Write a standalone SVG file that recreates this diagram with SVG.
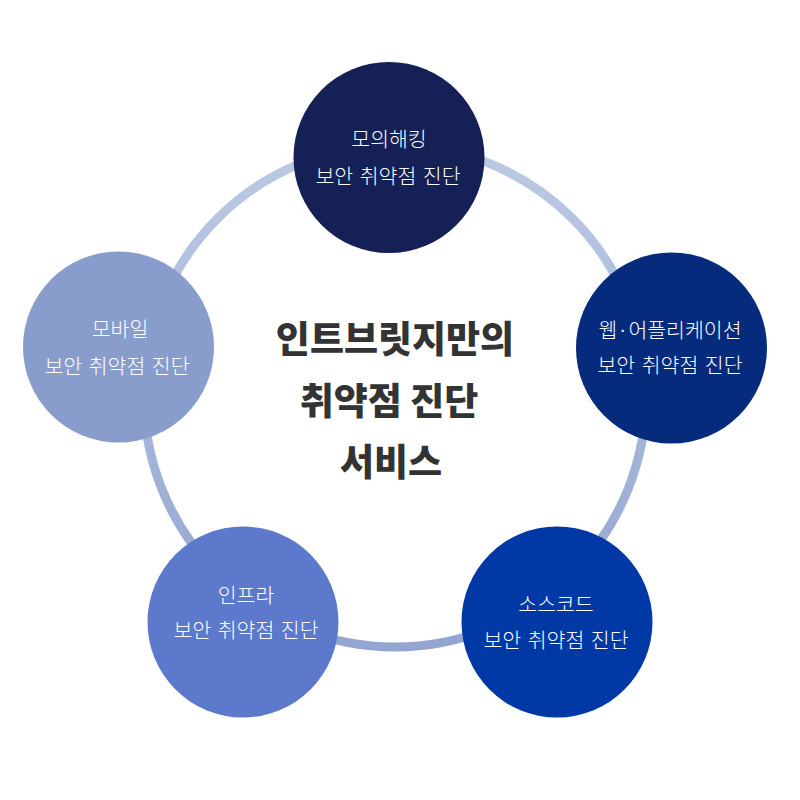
<svg xmlns="http://www.w3.org/2000/svg" width="800" height="800" viewBox="0 0 800 800">
<defs>
<linearGradient id="ringGrad" gradientUnits="userSpaceOnUse" x1="0" y1="145" x2="0" y2="647">
<stop offset="0" stop-color="#bccae3"/>
<stop offset="1" stop-color="#93a5d1"/>
</linearGradient>
<style>
.lbl{font-family:"Noto Sans CJK KR","Noto Sans",sans-serif;font-size:20.5px;fill:#ffffff;text-anchor:middle;font-weight:300;word-spacing:2px}
.title{font-family:"Noto Sans CJK KR","Noto Sans",sans-serif;font-size:37px;fill:#333333;text-anchor:middle;font-weight:900}
</style>
</defs>
<rect width="800" height="800" fill="#ffffff"/>
<g id="connectors">
<circle cx="395" cy="396" r="251" fill="none" stroke="url(#ringGrad)" stroke-width="9"/>
</g>
<g id="title">
<text class="title" x="395" y="353">인트브릿지만의</text>
<text class="title" x="389" y="415">취약점 진단</text>
<text class="title" x="391" y="476">서비스</text>
</g>
<g id="node-top">
<circle cx="389" cy="157.5" r="95.5" fill="#152156"/>
<text class="lbl" x="389" y="147">모의해킹</text>
<text class="lbl" x="388" y="184">보안 취약점 진단</text>
</g>
<g id="node-right">
<circle cx="671.5" cy="348" r="95.5" fill="#062b7c"/>
<text class="lbl" x="670" y="338">웹·어플리케이션</text>
<text class="lbl" x="670" y="373">보안 취약점 진단</text>
</g>
<g id="node-bottom-right">
<circle cx="557" cy="622" r="95.5" fill="#0039a6"/>
<text class="lbl" x="556" y="612">소스코드</text>
<text class="lbl" x="556" y="648">보안 취약점 진단</text>
</g>
<g id="node-bottom-left">
<circle cx="243" cy="622" r="95.5" fill="#5c79cb"/>
<text class="lbl" x="246" y="603">인프라</text>
<text class="lbl" x="246" y="638">보안 취약점 진단</text>
</g>
<g id="node-left">
<circle cx="118.5" cy="347" r="95.5" fill="#889dcb"/>
<text class="lbl" x="120" y="337">모바일</text>
<text class="lbl" x="117" y="374">보안 취약점 진단</text>
</g>
</svg>
